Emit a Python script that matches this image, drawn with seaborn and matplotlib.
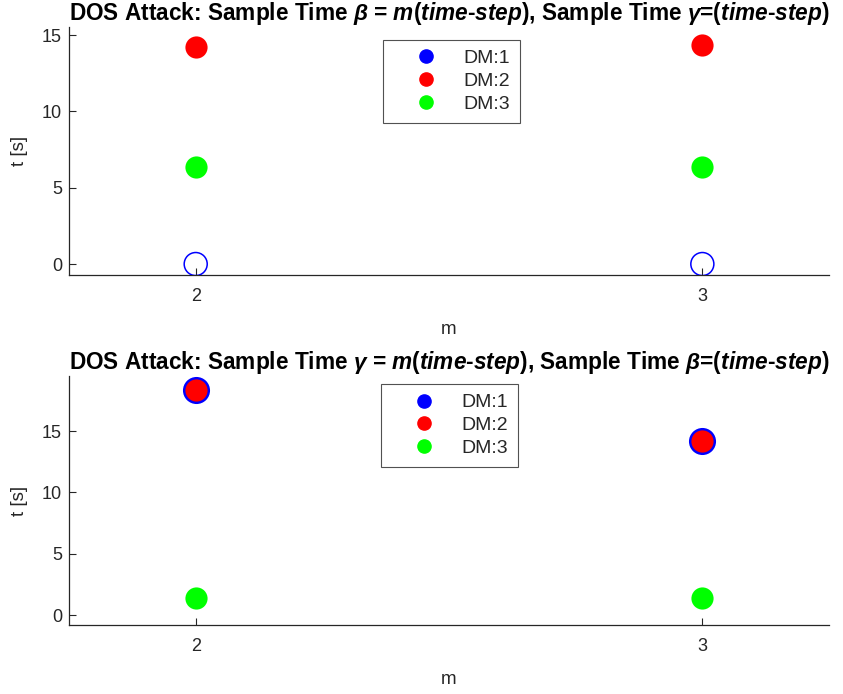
import matplotlib
matplotlib.use("Agg")
import matplotlib.pyplot as plt
from matplotlib.lines import Line2D
import seaborn as sns

# Sample-time multiplier m
m_values = [2, 3]

# Panel 1: beta sampled at m*(time-step), gamma at (time-step)
top_dm1 = [0.0, 0.0]
top_dm2 = [14.2, 14.35]
top_dm3 = [6.35, 6.35]

# Panel 2: gamma sampled at m*(time-step), beta at (time-step)
bot_dm1 = [18.34, 14.2]
bot_dm2 = [18.34, 14.2]
bot_dm3 = [1.39, 1.39]

dm_labels = ["DM:1", "DM:2", "DM:3"]
dm_colors = ["#0000ff", "#ff0000", "#00ff00"]

sns.set_style("ticks")
plt.rcParams["font.family"] = ["Liberation Sans", "DejaVu Sans"]
plt.rcParams["mathtext.fontset"] = "custom"
plt.rcParams["mathtext.it"] = "Liberation Sans:bold:italic"
plt.rcParams["mathtext.rm"] = "Liberation Sans:bold"
plt.rcParams["mathtext.bf"] = "Liberation Sans:bold"

axis_gray = "#262626"

fig = plt.figure(figsize=(8.43, 6.94), dpi=100)
ax_top = fig.add_axes([0.0819, 0.6037, 0.9015, 0.3573])
ax_bot = fig.add_axes([0.0819, 0.0994, 0.9015, 0.3588])

# --- top panel ---
sns.scatterplot(x=m_values, y=top_dm1, ax=ax_top, color=dm_colors[0],
                facecolor="none", edgecolor=dm_colors[0], linewidth=1.1,
                s=275, zorder=3)
sns.scatterplot(x=m_values, y=top_dm2, ax=ax_top, color=dm_colors[1],
                edgecolor=dm_colors[1], linewidth=0, s=255, zorder=3)
sns.scatterplot(x=m_values, y=top_dm3, ax=ax_top, color=dm_colors[2],
                edgecolor=dm_colors[2], linewidth=0, s=255, zorder=3)

# --- bottom panel ---
sns.scatterplot(x=m_values, y=bot_dm1, ax=ax_bot, color=dm_colors[0],
                edgecolor=dm_colors[0], linewidth=0, s=380, zorder=3)
sns.scatterplot(x=m_values, y=bot_dm2, ax=ax_bot, color=dm_colors[1],
                edgecolor=dm_colors[1], linewidth=0, s=255, zorder=4)
sns.scatterplot(x=m_values, y=bot_dm3, ax=ax_bot, color=dm_colors[2],
                edgecolor=dm_colors[2], linewidth=0, s=255, zorder=3)

titles = [
    r"DOS Attack: Sample Time $\beta$ = $\mathit{m(time}$-$\mathit{step)}$, Sample Time $\gamma$=$\mathit{(time}$-$\mathit{step)}$",
    r"DOS Attack: Sample Time $\gamma$ = $\mathit{m(time}$-$\mathit{step)}$, Sample Time $\beta$=$\mathit{(time}$-$\mathit{step)}$",
]
ylims = [(-0.72, 15.52), (-0.8, 19.48)]
legend_anchor = [(0.5035, 0.948), (0.5005, 0.968)]

handles = [Line2D([], [], linestyle="none", marker="o", markersize=9.5,
                  markerfacecolor=c, markeredgecolor=c, label=l)
           for c, l in zip(dm_colors, dm_labels)]

for ax, title, ylim, anchor in zip([ax_top, ax_bot], titles, ylims, legend_anchor):
    ax.set_xlim(1.75, 3.25)
    ax.set_ylim(*ylim)
    ax.set_xticks(m_values)
    ax.set_yticks([0, 5, 10, 15])
    ax.tick_params(direction="in", length=5, width=0.8, colors=axis_gray,
                   labelsize=13, pad=5)
    ax.tick_params(axis="x", pad=9)
    sns.despine(ax=ax)
    for side in ("left", "bottom"):
        ax.spines[side].set_color(axis_gray)
        ax.spines[side].set_linewidth(0.9)
    ax.set_xlabel("m", fontsize=13.5, color=axis_gray, labelpad=12)
    ax.set_ylabel("t [s]", fontsize=13.5, color=axis_gray, labelpad=10)
    ax.set_title(title, fontsize=16.3, fontweight="bold", color="black", pad=4)
    leg = ax.legend(handles=handles, loc="upper center", bbox_to_anchor=anchor,
                    borderaxespad=0, frameon=True, fancybox=False,
                    edgecolor="#262626", fontsize=14, handletextpad=0.25,
                    handlelength=3.4, labelspacing=0.27, borderpad=0.5,
                    markerfirst=True)
    leg.get_frame().set_linewidth(0.8)
    for t in leg.get_texts():
        t.set_color(axis_gray)

fig.savefig("out.png", dpi=100)
